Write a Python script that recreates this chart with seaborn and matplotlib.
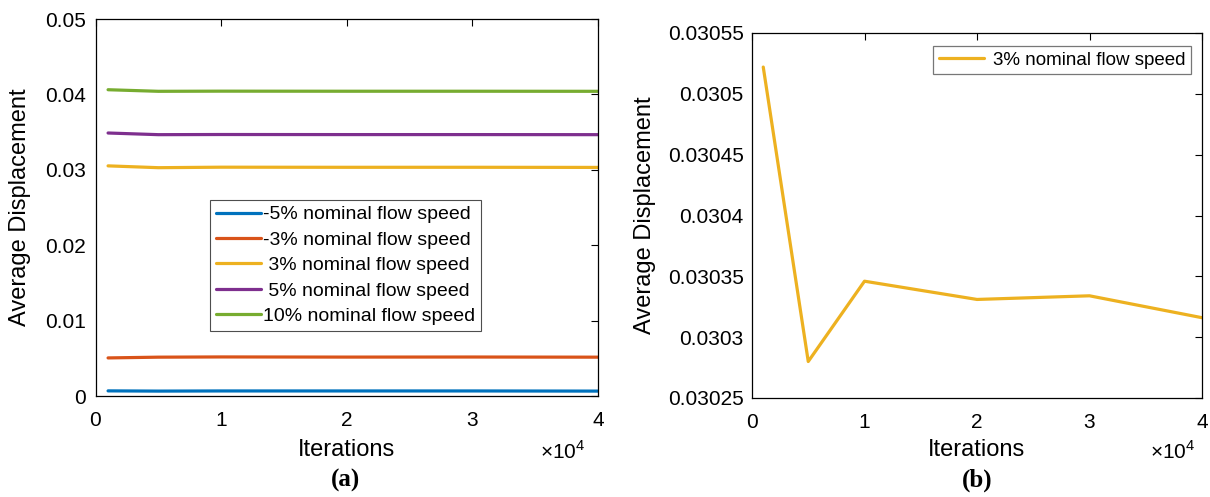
import numpy as np
import pandas as pd
import matplotlib
matplotlib.use("Agg")
import matplotlib.pyplot as plt
import seaborn as sns
from matplotlib.ticker import FuncFormatter, MultipleLocator

iterations = [1000, 5000, 10000, 20000, 30000, 40000]
minus5 = [0.00068, 0.00065, 0.00067, 0.00067, 0.00067, 0.00065]
minus3 = [0.00505, 0.00515, 0.00518, 0.00516, 0.00517, 0.00515]
plus3 = [0.030522, 0.03028, 0.030346, 0.030331, 0.030334, 0.030316]
plus5 = [0.03488, 0.03466, 0.03468, 0.03467, 0.03467, 0.03466]
plus10 = [0.04062, 0.04041, 0.04043, 0.04042, 0.04042, 0.04041]

labels = ["-5% nominal flow speed", "-3% nominal flow speed",
          " 3% nominal flow speed", " 5% nominal flow speed",
          "10% nominal flow speed"]
colors = ["#0072BD", "#D95319", "#EDB120", "#7E2F8E", "#77AC30"]
series = [minus5, minus3, plus3, plus5, plus10]

rows = []
for lab, vals in zip(labels, series):
    for it, v in zip(iterations, vals):
        rows.append({"Iterations": it, "Displacement": v, "Series": lab})
df = pd.DataFrame(rows)
df_b = df[df["Series"] == labels[2]].copy()
df_b["Series"] = "3% nominal flow speed"

sns.set_style("white")
plt.rcParams["font.family"] = ["Liberation Sans", "DejaVu Sans"]
plt.rcParams["mathtext.fontset"] = "custom"
plt.rcParams["mathtext.rm"] = "Liberation Sans"
plt.rcParams["text.color"] = "black"
plt.rcParams["axes.labelcolor"] = "black"
plt.rcParams["xtick.color"] = "black"
plt.rcParams["ytick.color"] = "black"

W, H = 1210, 497
fig = plt.figure(figsize=(12.1, 4.97), dpi=100)
b1 = (95.5, 19, 598, 396)
b2 = (752, 33, 1202, 398)
def box(b):
    l, t, r, bt = b
    return [l / W, 1 - bt / H, (r - l) / W, (bt - t) / H]
ax1 = fig.add_axes(box(b1))
ax2 = fig.add_axes(box(b2))

sns.lineplot(data=df, x="Iterations", y="Displacement", hue="Series",
             hue_order=labels, palette=colors, linewidth=2.3, ax=ax1)
sns.lineplot(data=df_b, x="Iterations", y="Displacement", hue="Series",
             palette=[colors[2]], linewidth=2.3, ax=ax2)

gfmt = FuncFormatter(lambda v, p: "{:g}".format(round(v, 8)))
xfmt = FuncFormatter(lambda v, p: "{:g}".format(v / 1e4))

for ax, b, ypad in ((ax1, b1, 7), (ax2, b2, 6)):
    ax.set_xlim(0, 40000)
    ax.xaxis.set_major_locator(MultipleLocator(10000))
    ax.xaxis.set_major_formatter(xfmt)
    ax.yaxis.set_major_formatter(gfmt)
    ax.tick_params(direction="in", length=5, width=0.8, top=True, right=True,
                   labelsize=15, colors="black", labelcolor="black")
    ax.tick_params(axis="x", pad=11)
    ax.tick_params(axis="y", pad=ypad)
    for s in ax.spines.values():
        s.set_linewidth(0.9)
        s.set_color("black")
    ax.set_xlabel("Iterations", fontsize=17, color="black")
    ax.set_ylabel("Average Displacement", fontsize=17, color="black")

l, t, r, bt = b1
ax1.xaxis.set_label_coords(0.5, (bt - 450) / (bt - t))
ax1.yaxis.set_label_coords((20 - l) / (r - l), 0.5)
l, t, r, bt = b2
ax2.xaxis.set_label_coords(0.5, (bt - 450) / (bt - t))
ax2.yaxis.set_label_coords((645 - l) / (r - l), 0.5)
for ax in (ax1, ax2):
    ax.xaxis.label.set_va("center")
    ax.yaxis.label.set_va("center")

ax1.set_ylim(0, 0.05)
ax1.yaxis.set_major_locator(MultipleLocator(0.01))
ax2.set_ylim(0.03025, 0.03055)
ax2.yaxis.set_major_locator(MultipleLocator(0.00005))

leg1 = ax1.legend(loc="upper left", bbox_to_anchor=((210 - 95.5) / 502.5, (396 - 200) / 377),
                  fontsize=14, frameon=True, fancybox=False, edgecolor="#222222",
                  handlelength=2.3, handletextpad=0.15, labelspacing=0.4,
                  borderpad=0.3, borderaxespad=0)
leg1.get_frame().set_linewidth(0.8)
leg2 = ax2.legend(loc="upper right", bbox_to_anchor=((1191 - 752) / 450, (398 - 46) / 365),
                  fontsize=13.5, frameon=True, fancybox=False, edgecolor="#555555",
                  handlelength=2.4, handletextpad=0.5, borderpad=0.3, borderaxespad=0)
leg2.get_frame().set_linewidth(0.9)
for leg in (leg1, leg2):
    for tx in leg.get_texts():
        tx.set_color("black")

fig.text(563 / W, 1 - 452 / H, r"$\times10^{4}$", fontsize=15, ha="center", va="center", color="black")
fig.text(1173 / W, 1 - 452 / H, r"$\times10^{4}$", fontsize=15, ha="center", va="center", color="black")

fig.text(345 / W, 1 - 480 / H, "(a)", fontsize=18, fontweight="bold", color="black",
         family=["Liberation Serif", "DejaVu Serif"], ha="center", va="center")
fig.text(977 / W, 1 - 480 / H, "(b)", fontsize=18, fontweight="bold", color="black",
         family=["Liberation Serif", "DejaVu Serif"], ha="center", va="center")

fig.savefig("out.png", dpi=100, facecolor="white")
